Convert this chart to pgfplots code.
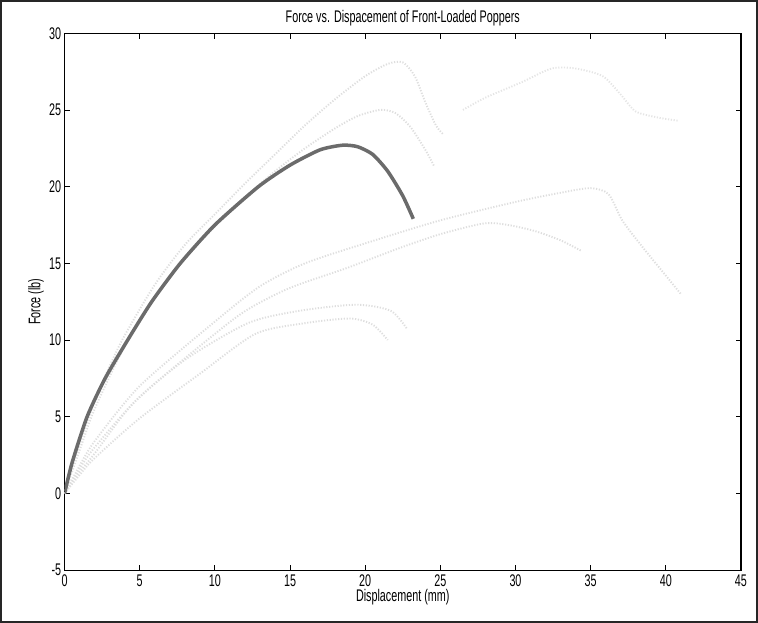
\documentclass[border=0pt]{standalone}
\usepackage{fontspec}
\setmainfont[FakeStretch=0.64]{Liberation Sans}
\usepackage{pgfplots}
\pgfplotsset{compat=1.18}

% faint trial curves
\pgfplotsset{faint/.style={black!13, line width=1.4pt, dash pattern=on 0.9pt off 1.2pt, smooth, tension=0.45}}

\begin{document}
\begin{tikzpicture}
\begin{axis}[
    name=ax,
    scale only axis,
    width=501.75pt, height=398.25pt,
    xmin=0, xmax=45, ymin=-5, ymax=30,
    xtick={0,5,...,45},
    ytick={-5,0,...,30},
    xticklabels={0,5,10,15,20,25,30,35,40,45},
    yticklabels={-5,0,5,10,15,20,25,30},
    tick align=inside,
    major tick length=4pt,
    tick style={black, line width=0.6pt},
    axis line style={black, line width=0.8pt},
    ticklabel style={font=\fontsize{12.5}{14}\selectfont},
    yticklabel style={xshift=1pt},
    label style={font=\fontsize{12.5}{14}\selectfont},
    title style={font=\fontsize{12.5}{14}\selectfont, yshift=-4pt},
    title={Force vs. Dispacement of Front-Loaded Poppers},
    xlabel={Displacement (mm)},
    ylabel={Force (lb)},
    xlabel style={yshift=5pt},
    ylabel style={yshift=-3pt},
    clip=true,
]
% peak ~28
\addplot[faint] coordinates {
 (0,0) (1,3.2) (2,6) (3,8.3) (4,10.3) (6,13.6) (8,16.2) (10,18.2) (12,20.2)
 (14,22.1) (16,24) (18,25.7) (20,27.2) (21.5,28) (22.5,28.1) (23.3,27.2)
 (24,25.5) (24.7,24) (25.2,23.4)};
% peak ~25
\addplot[faint] coordinates {
 (0,0) (1,2.8) (2,5.5) (4,9.6) (6,12.8) (8,15.3) (10,17.4) (12,19.3) (14,21)
 (16,22.5) (18,23.8) (19.5,24.6) (21,25) (22,24.8) (23,23.9) (24,22.4) (24.6,21.3)};
% peak ~27.8 far right (only the visible part)
\addplot[faint, black!10] coordinates {
 (26.5,25) (28,25.8) (30.4,26.8)
 (32.4,27.7) (34,27.7) (35.8,27.2) (37,26) (38,24.9) (39.5,24.5) (40.8,24.3)};
% peak ~19.9
\addplot[faint] coordinates {
 (0,0) (1,1.8) (2,3.4) (5,7) (10,11.2) (13,13.5) (16,15) (20,16.3) (25,17.8)
 (30,19) (33,19.6) (35,19.9) (36.2,19.5) (37.1,17.8) (38.5,16) (40,14.2) (41,13)};
% peak ~17.5
\addplot[faint] coordinates {
 (0,0) (1,1.6) (2,3) (5,6.3) (10,10.4) (12.2,12) (15,13.4) (18.8,14.7)
 (22.3,16) (25,16.9) (27.9,17.6) (29.5,17.5) (31.3,17.1) (33,16.5) (34.4,15.8)};
% peak ~12.3
\addplot[faint] coordinates {
 (0,0) (1,1.4) (2,2.6) (4.5,5.8) (8,8.7) (12.2,11.1) (15.6,11.9) (19.4,12.3)
 (21.7,11.9) (22.8,10.7)};
% peak ~11.5
\addplot[faint] coordinates {
 (0,0) (1,1.2) (2,2.3) (5,4.9) (9,7.8) (12.7,10.4) (16,11.1) (19,11.4)
 (20.5,11) (21.5,10)};
% highlighted trial
\addplot[color=black!58, line width=2.6pt, smooth, tension=0.4] coordinates {
 (0,0) (0.5,2) (1.5,5) (2.7,7.5) (4.2,10) (5.8,12.5) (7.7,15) (10,17.5)
 (12.9,20) (15,21.4) (17,22.4) (18.5,22.7) (19.5,22.6) (20.5,22.1) (21.5,21)
 (22.5,19.4) (23.2,17.9)};
\end{axis}
\draw[black!85, line width=1.3pt]
  ([shift={(-47.25pt,-38.25pt)}]ax.south west) rectangle
  ([shift={(12pt,24pt)}]ax.north east);
\end{tikzpicture}
\end{document}
